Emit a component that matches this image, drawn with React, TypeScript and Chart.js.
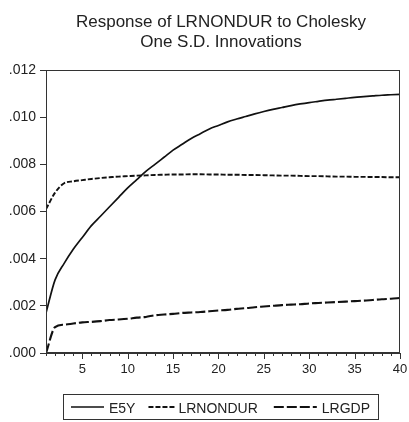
import React, { useEffect, useRef } from "react";
import { Chart, registerables } from "chart.js";

Chart.register(...registerables);

const titleLines = ["Response of LRNONDUR to Cholesky", "One S.D. Innovations"];

const periods = [1, 2, 3, 4, 5, 6, 7, 8, 9, 10, 11, 12, 13, 14, 15, 16, 17, 18, 19, 20,
  21, 22, 23, 24, 25, 26, 27, 28, 29, 30, 31, 32, 33, 34, 35, 36, 37, 38, 39, 40];

const e5y = [0.0017, 0.0031, 0.0038, 0.0044, 0.0049, 0.0054, 0.0058, 0.0062, 0.0066, 0.0070,
  0.00735, 0.0077, 0.0080, 0.0083, 0.0086, 0.00885, 0.0091, 0.0093, 0.0095, 0.00965,
  0.0098, 0.00992, 0.01003, 0.01014, 0.01024, 0.01033, 0.01041, 0.01049, 0.01056, 0.01062,
  0.01067, 0.01072, 0.01076, 0.0108, 0.01084, 0.01087, 0.0109, 0.01093, 0.01095, 0.01097];

const lrnondur = [0.0061, 0.0068, 0.0072, 0.00728, 0.00733, 0.00738, 0.00742, 0.00745, 0.00748, 0.0075,
  0.00752, 0.00753, 0.00755, 0.00756, 0.00757, 0.00757, 0.00758, 0.00758, 0.00757, 0.00757,
  0.00756, 0.00756, 0.00755, 0.00755, 0.00754, 0.00753, 0.00752, 0.00752, 0.00751, 0.0075,
  0.0075, 0.00749, 0.00748, 0.00748, 0.00747, 0.00747, 0.00746, 0.00746, 0.00745, 0.00745];

const lrgdp = [0.0, 0.0011, 0.0012, 0.00125, 0.0013, 0.00132, 0.00135, 0.0014, 0.00142, 0.00145,
  0.0015, 0.00153, 0.0016, 0.00163, 0.00166, 0.0017, 0.00172, 0.00174, 0.00177, 0.0018,
  0.00183, 0.00187, 0.0019, 0.00194, 0.00197, 0.002, 0.00203, 0.00205, 0.00207, 0.0021,
  0.00212, 0.00214, 0.00216, 0.00218, 0.0022, 0.00222, 0.00225, 0.00228, 0.0023, 0.00233];

const seriesNames = ["E5Y", "LRNONDUR", "LRGDP"];
const seriesDash: number[][] = [[], [5, 2], [10, 3]];
const seriesWidth = [1.7, 1.9, 2.1];

const FONT = "'Liberation Sans', Arial, sans-serif";
const INK = "#222";

const decor = {
  id: "decor",
  afterDraw(chart: any) {
    const { ctx, chartArea: a, scales } = chart;
    const xs = scales.x;
    ctx.save();
    // frame
    ctx.strokeStyle = "#333";
    ctx.lineWidth = 1;
    ctx.setLineDash([]);
    ctx.strokeRect(Math.round(a.left) + 0.5, Math.round(a.top) + 0.5,
      Math.round(a.right - a.left) - 1, Math.round(a.bottom - a.top) - 1);
    // x ticks
    const yb = Math.round(a.bottom);
    ctx.beginPath();
    for (const p of periods) {
      const px = Math.round(xs.getPixelForValue(p)) + 0.5;
      const len = p % 5 === 0 ? 6 : 3;
      ctx.moveTo(px, yb);
      ctx.lineTo(px, yb + len);
    }
    ctx.stroke();

    const cx = (a.left + a.right) / 2 - 2;
    // title
    ctx.fillStyle = INK;
    ctx.font = `17px ${FONT}`;
    ctx.textAlign = "center";
    ctx.textBaseline = "alphabetic";
    ctx.fillText(titleLines[0], cx, 27);
    ctx.fillText(titleLines[1], cx, 47);

    // legend
    ctx.font = `14px ${FONT}`;
    const sampleLen = [33, 26, 43];
    const gapAfterSample = [5, 4, 5];
    const gapAfterText = [13, 16, 0];
    let total = 0;
    for (let i = 0; i < 3; i++) {
      total += sampleLen[i] + gapAfterSample[i] + ctx.measureText(seriesNames[i]).width + gapAfterText[i];
    }
    const pad = 8;
    const boxL = Math.round(cx - total / 2 - pad);
    const boxR = Math.round(cx + total / 2 + pad);
    const boxT = 394;
    const boxB = 420;
    ctx.strokeStyle = "#333";
    ctx.lineWidth = 1;
    ctx.strokeRect(boxL + 0.5, boxT + 0.5, boxR - boxL - 1, boxB - boxT - 1);
    let x = boxL + pad;
    const ly = 407;
    ctx.textAlign = "left";
    for (let i = 0; i < 3; i++) {
      ctx.beginPath();
      ctx.setLineDash(seriesDash[i]);
      ctx.lineWidth = seriesWidth[i];
      ctx.strokeStyle = "#111";
      ctx.moveTo(x, ly);
      ctx.lineTo(x + sampleLen[i], ly);
      ctx.stroke();
      x += sampleLen[i] + gapAfterSample[i];
      ctx.fillStyle = INK;
      ctx.fillText(seriesNames[i], x, 413);
      x += ctx.measureText(seriesNames[i]).width + gapAfterText[i];
    }
    ctx.restore();
  },
};

export default function App() {
  const ref = useRef<HTMLCanvasElement | null>(null);
  useEffect(() => {
    if (!ref.current) return;
    const allSeries = [e5y, lrnondur, lrgdp];
    const chart = new Chart(ref.current, {
      type: "line",
      data: {
        datasets: allSeries.map((s, i) => ({
          label: seriesNames[i],
          data: periods.map((p, j) => ({ x: p, y: s[j] })),
          borderColor: "#111",
          borderWidth: seriesWidth[i],
          borderDash: seriesDash[i],
          pointRadius: 0,
          cubicInterpolationMode: "monotone" as const,
          fill: false,
        })),
      },
      options: {
        animation: false,
        responsive: true,
        maintainAspectRatio: false,
        layout: { padding: { left: 0, right: 9, top: 70, bottom: 39 } },
        plugins: { legend: { display: false }, title: { display: false }, tooltip: { enabled: false } },
        scales: {
          x: {
            type: "linear",
            min: 1,
            max: 40,
            afterFit: (s: any) => { s.height = 30; s.paddingLeft = 0; s.paddingRight = 0; },
            grid: { display: false, drawTicks: false },
            border: { display: true, color: "#333" },
            ticks: {
              stepSize: 1,
              autoSkip: false,
              maxRotation: 0,
              padding: 9,
              color: INK,
              font: { family: FONT, size: 13 },
              callback: (v: any) => (Number(v) % 5 === 0 ? String(v) : ""),
            },
          },
          y: {
            min: 0,
            max: 0.012,
            afterFit: (s: any) => { s.width = 46; s.paddingTop = 0; s.paddingBottom = 0; },
            grid: { drawOnChartArea: false, drawTicks: true, tickLength: 6, color: "#333" },
            border: { display: true, color: "#333" },
            ticks: {
              stepSize: 0.002,
              padding: 4,
              color: INK,
              font: { family: FONT, size: 14 },
              callback: (v: any) => Number(v).toFixed(3).replace(/^0/, ""),
            },
          },
        },
      },
      plugins: [decor],
    });
    return () => chart.destroy();
  }, []);
  return (
    <div style={{ position: "absolute", left: 0, top: 0, width: 409, height: 422 }}>
      <canvas ref={ref} />
    </div>
  );
}
